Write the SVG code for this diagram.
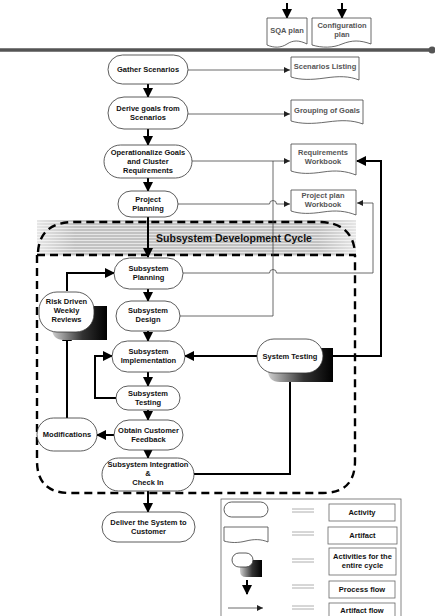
<svg xmlns="http://www.w3.org/2000/svg" width="435" height="616" viewBox="0 0 435 616">
<style>
.act{fill:#fff;stroke:#333;stroke-width:0.8}
.doc{fill:#fff;stroke:#444;stroke-width:0.8}
.t{font-family:"Liberation Sans",Arial,sans-serif;font-weight:bold;font-size:7.5px;text-anchor:middle;fill:#111}
.ta{font-family:"Liberation Sans",Arial,sans-serif;font-weight:bold;font-size:7.5px;text-anchor:middle;fill:#555}
.pf{fill:none;stroke:#000;stroke-width:2;marker-end:url(#big)}
.pfn{fill:none;stroke:#000;stroke-width:2}
.af{fill:none;stroke:#444;stroke-width:0.8;marker-end:url(#small)}
.afn{fill:none;stroke:#444;stroke-width:0.8}
.dash{fill:none;stroke:#000;stroke-width:2.4;stroke-dasharray:8 5}
.lg{fill:#fff;stroke:#666;stroke-width:0.8}
.eq{stroke:#999;stroke-width:0.8}
</style>
<defs>
<marker id="big" markerUnits="userSpaceOnUse" markerWidth="10" markerHeight="10" refX="9" refY="5" orient="auto"><path d="M0,0 L10,5 L0,10 Z" fill="#000"/></marker>
<marker id="small" markerUnits="userSpaceOnUse" markerWidth="6" markerHeight="6" refX="6" refY="3" orient="auto"><path d="M0,0 L6,3 L0,6 Z" fill="#222"/></marker>
<linearGradient id="shade" x1="0" y1="0" x2="1" y2="0"><stop offset="0" stop-color="#d0d0d0"/><stop offset="0.55" stop-color="#333"/><stop offset="1" stop-color="#000"/></linearGradient>
<pattern id="stripes" width="4" height="3" patternUnits="userSpaceOnUse"><rect width="4" height="3" fill="#c2c2c2"/><rect width="4" height="1" fill="#e6e6e6"/></pattern>
<linearGradient id="fade" x1="0" y1="0" x2="1" y2="0"><stop offset="0" stop-color="#fff" stop-opacity="0.6"/><stop offset="0.12" stop-color="#fff" stop-opacity="0"/><stop offset="0.88" stop-color="#fff" stop-opacity="0"/><stop offset="1" stop-color="#fff" stop-opacity="0.6"/></linearGradient>
</defs>

<!-- top divider -->
<line x1="0" y1="50" x2="432" y2="50" stroke="#555" stroke-width="3.5"/>
<circle cx="432" cy="50" r="3.5" fill="#555"/>

<!-- subsystem development cycle frame -->
<g id="cycle">
<rect x="37" y="220" width="319" height="36" fill="url(#stripes)"/>
<rect x="37" y="220" width="319" height="36" fill="url(#fade)"/>
<path class="dash" d="M38,252 Q40,222 75,222 H318 Q352,222 355,252"/>
<line class="dash" x1="37" y1="255" x2="356" y2="255"/>
<path class="dash" d="M37,255 V461 Q37,493 70,493 H323 Q355,493 355,461 V255"/>
<text x="234" y="242" font-family="Liberation Sans,Arial,sans-serif" font-weight="bold" font-size="10.5" text-anchor="middle" fill="#111">Subsystem Development Cycle</text>
</g>

<!-- connectors -->
<g id="connectors">
<path class="pf" d="M287,3 V18"/>
<path class="pf" d="M342,3 V18"/>
<path class="pf" d="M148,84 V97"/>
<path class="pf" d="M148,129 V145"/>
<path class="pf" d="M148,178 V191"/>
<path class="pf" d="M148,217 V257"/>
<path class="pf" d="M148,289 V301"/>
<path class="pf" d="M148,331 V341"/>
<path class="pf" d="M148,372 V386"/>
<path class="pf" d="M148,410 V420"/>
<path class="pf" d="M148,450 V458"/>
<path class="pf" d="M148,491 V512"/>
<path class="pf" d="M67,291 V273 H114"/>
<path class="pf" d="M67,418 V332"/>
<path class="pf" d="M114,435 H97"/>
<path class="pf" d="M116,398 H95 V356 H112"/>
<path class="pf" d="M257,356 H185"/>
<path class="pf" d="M194,474 H290 V373"/>
<path class="pf" d="M333,356 H381 V161 H357"/>
<path class="af" d="M188,70 H290"/>
<path class="af" d="M188,114 H290"/>
<path class="af" d="M192,161 H290"/>
<path class="afn" d="M180,316 H273 V161"/>
<path class="af" d="M178,204 H269.5 A3.5,3.5 0 0 1 276.5,204 H290"/>
<path class="af" d="M183,273 H269.5 A3.5,3.5 0 0 1 276.5,273 H373 V203 H357"/>
</g>

<!-- artifacts -->
<g id="sqa-plan"><path class="doc" d="M267,18 H307 V44 C299,40 293,40 287,44 C281,48 274,48 267,45 Z"/><text class="ta" x="287" y="33">SQA plan</text></g>
<g id="config-plan"><path class="doc" d="M312,18 H371 V44 C360,40 352,40 342,44 C333,48 322,48 312,45 Z"/><text class="ta" x="342" y="28">Configuration</text><text class="ta" x="342" y="37">plan</text></g>
<g id="scenarios-listing"><path class="doc" d="M291,57 H359 V80 C349,76 339,76 325,78 C311,80 300,80 291,77 Z"/><text class="ta" x="325" y="69">Scenarios Listing</text></g>
<g id="grouping-goals"><path class="doc" d="M291,100 H363 V124 C352,120 342,120 327,122 C312,124 301,124 291,121 Z"/><text class="ta" x="327" y="113">Grouping of Goals</text></g>
<g id="req-workbook"><path class="doc" d="M291,144 H356 V175 C346,171 336,170 323,172 C310,174 300,174 291,171 Z"/><text class="ta" x="323" y="155">Requirements</text><text class="ta" x="323" y="164">Workbook</text></g>
<g id="pp-workbook"><path class="doc" d="M291,190 H356 V215 C346,211 336,210 323,212 C310,214 300,214 291,211 Z"/><text class="ta" x="323" y="198">Project plan</text><text class="ta" x="323" y="207">Workbook</text></g>

<!-- activities -->
<g id="gather"><rect class="act" x="108" y="55" width="80" height="29" rx="14.5"/><text class="t" x="148" y="72">Gather Scenarios</text></g>
<g id="derive"><rect class="act" x="108" y="97" width="80" height="32" rx="16"/><text class="t" x="148" y="111">Derive goals from</text><text class="t" x="148" y="120">Scenarios</text></g>
<g id="operationalize"><rect class="act" x="104" y="145" width="88" height="33" rx="16.5"/><text class="t" x="148" y="155">Operationalize Goals</text><text class="t" x="148" y="164">and Cluster</text><text class="t" x="148" y="173">Requirements</text></g>
<g id="project-planning"><rect class="act" x="118" y="191" width="60" height="26" rx="13"/><text class="t" x="148" y="202">Project</text><text class="t" x="148" y="211">Planning</text></g>
<g id="sub-planning"><rect class="act" x="114" y="258" width="69" height="31" rx="15.5"/><text class="t" x="148.5" y="271">Subsystem</text><text class="t" x="148.5" y="280">Planning</text></g>
<g id="sub-design"><rect class="act" x="116" y="301" width="64" height="30" rx="15"/><text class="t" x="148" y="313">Subsystem</text><text class="t" x="148" y="322">Design</text></g>
<g id="sub-impl"><rect class="act" x="112" y="341" width="73" height="31" rx="15.5"/><text class="t" x="148.5" y="354">Subsystem</text><text class="t" x="148.5" y="363">Implementation</text></g>
<g id="sub-testing"><rect class="act" x="116" y="386" width="64" height="24" rx="12"/><text class="t" x="148" y="396">Subsystem</text><text class="t" x="148" y="405">Testing</text></g>
<g id="feedback"><rect class="act" x="114" y="420" width="69" height="30" rx="15"/><text class="t" x="148.5" y="433">Obtain Customer</text><text class="t" x="148.5" y="442">Feedback</text></g>
<g id="integration"><rect class="act" x="102" y="458" width="92" height="33" rx="16.5"/><text class="t" x="148" y="467">Subsystem Integration</text><text class="t" x="148" y="476">&amp;</text><text class="t" x="148" y="485">Check In</text></g>
<g id="deliver"><rect class="act" x="102" y="512" width="93" height="30" rx="15"/><text class="t" x="148.5" y="525">Deliver the System to</text><text class="t" x="148.5" y="534">Customer</text></g>
<g id="modifications"><rect class="act" x="37" y="418" width="60" height="33" rx="16.5"/><text class="t" x="67" y="437">Modifications</text></g>
<g id="risk-reviews"><path d="M52,306 H107 V340 H64 Q52,340 52,328 Z" fill="url(#shade)"/><rect class="act" x="39" y="292" width="55" height="40" rx="18"/><text class="t" x="66.5" y="304">Risk Driven</text><text class="t" x="66.5" y="313">Weekly</text><text class="t" x="66.5" y="322">Reviews</text></g>
<g id="system-testing"><path d="M268,348 H333 V382 H280 Q268,382 268,370 Z" fill="url(#shade)"/><rect class="act" x="257" y="339" width="66" height="34" rx="17"/><text class="t" x="290" y="359">System Testing</text></g>

<!-- legend -->
<g id="legend">
<rect x="221" y="499" width="180" height="120" fill="#fff" stroke="#666" stroke-width="0.8"/>
<rect class="act" x="224" y="502" width="44" height="15" rx="7.5"/>
<path class="doc" d="M224,527 H268 V542 C261,539 254,539 246,541 C238,543 231,543 224,541 Z"/>
<path d="M240,560 H262 V577 H246 Q240,577 240,571 Z" fill="url(#shade)"/>
<rect class="act" x="232" y="553" width="21" height="14" rx="7"/>
<path class="pf" d="M247,580 V594"/>
<path class="af" d="M228,608 H263"/>
<line class="eq" x1="292" y1="509" x2="314" y2="509"/><line class="eq" x1="292" y1="512" x2="314" y2="512"/>
<line class="eq" x1="292" y1="532" x2="314" y2="532"/><line class="eq" x1="292" y1="535" x2="314" y2="535"/>
<line class="eq" x1="292" y1="559" x2="314" y2="559"/><line class="eq" x1="292" y1="562" x2="314" y2="562"/>
<line class="eq" x1="292" y1="585" x2="314" y2="585"/><line class="eq" x1="292" y1="588" x2="314" y2="588"/>
<line class="eq" x1="292" y1="606" x2="314" y2="606"/><line class="eq" x1="292" y1="609" x2="314" y2="609"/>
<rect class="lg" x="329" y="504" width="66" height="17"/><text class="t" x="362" y="515">Activity</text>
<rect class="lg" x="328" y="527" width="69" height="17"/><text class="t" x="362.5" y="538">Artifact</text>
<rect class="lg" x="329" y="548" width="67" height="27"/><text class="t" x="362.5" y="559">Activities for the</text><text class="t" x="362.5" y="568">entire cycle</text>
<rect class="lg" x="329" y="581" width="66" height="17"/><text class="t" x="362" y="592">Process flow</text>
<rect class="lg" x="329" y="603" width="66" height="17"/><text class="t" x="362" y="613">Artifact flow</text>
</g>
</svg>
